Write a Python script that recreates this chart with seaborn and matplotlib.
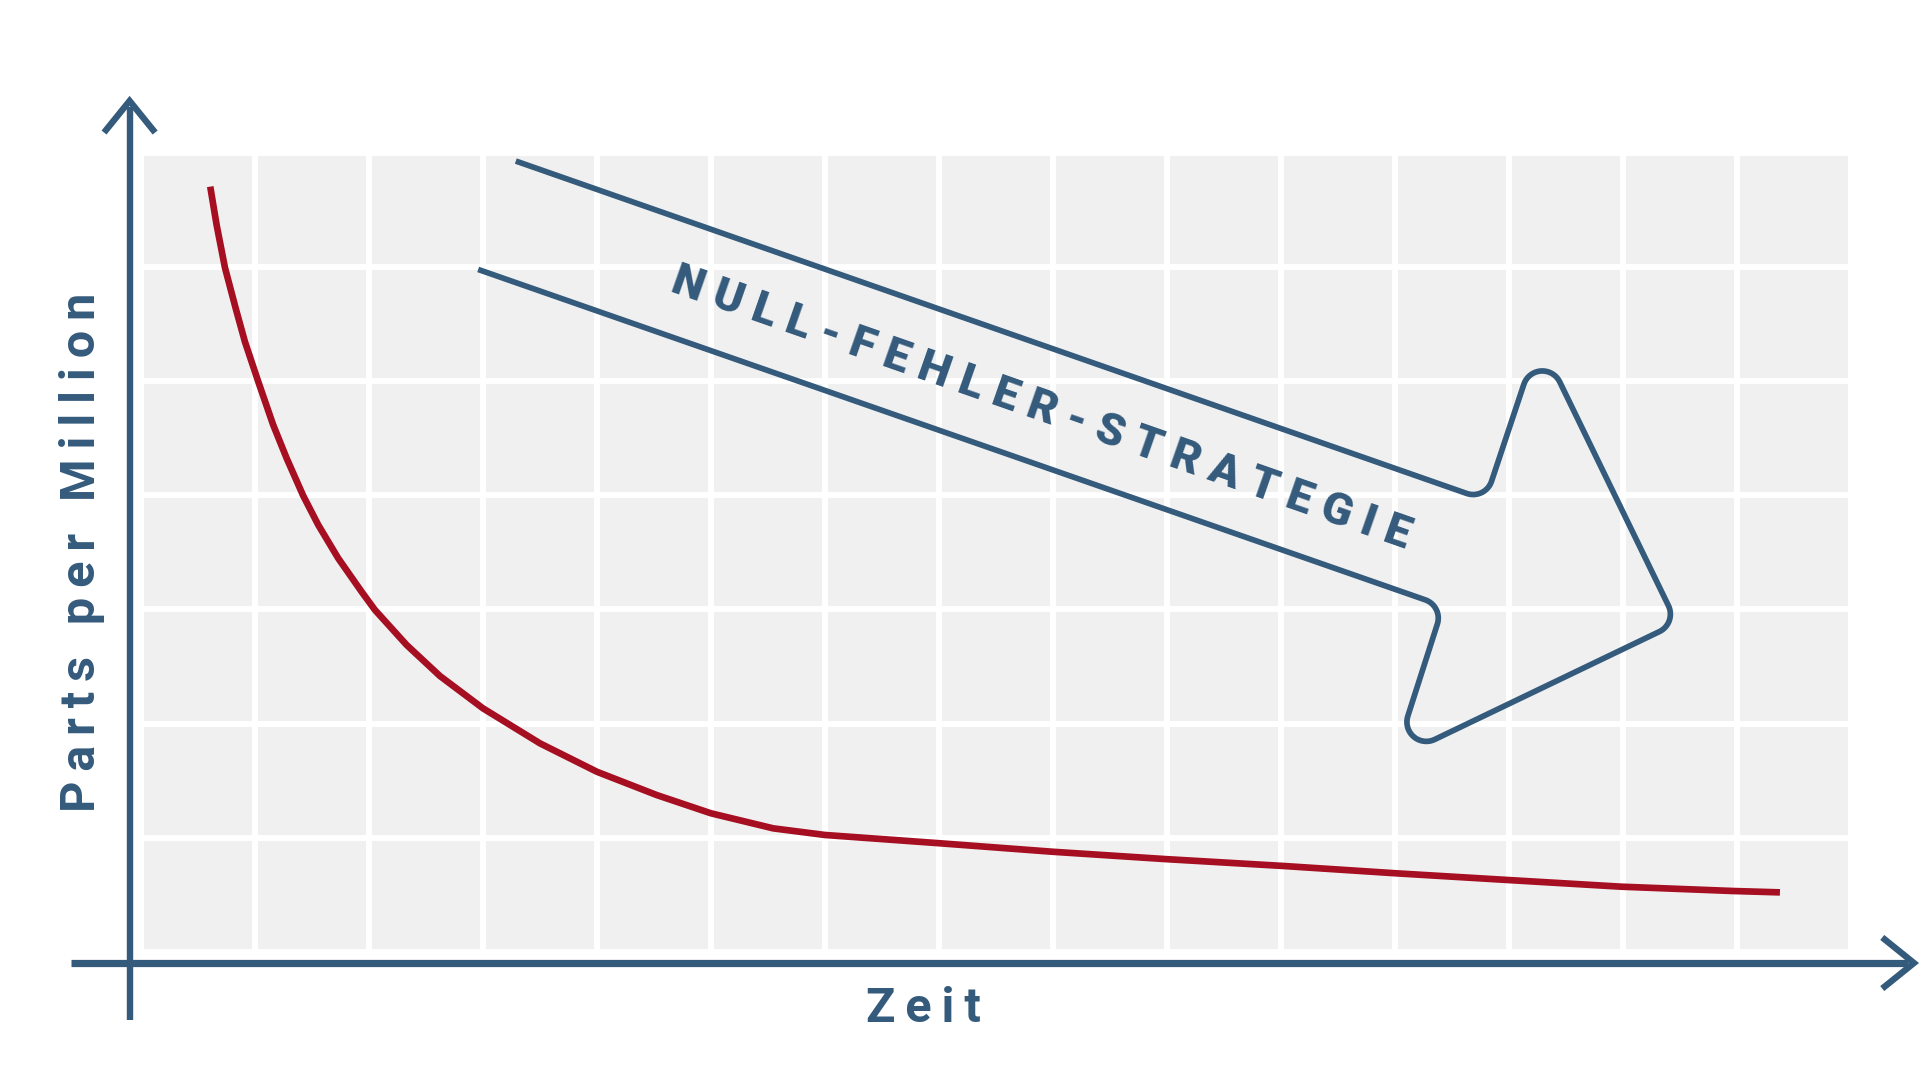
import matplotlib
matplotlib.use('Agg')
import matplotlib.pyplot as plt
import seaborn as sns
import pandas as pd
import numpy as np


# Werte (Rasterfeld = 1 Einheit, 15 x 7 Felder)
zeit = [0.611, 0.667, 0.740, 0.834, 0.915, 1.032, 1.163, 1.281, 1.426, 1.558,
        1.733, 1.938, 2.055, 2.333, 2.625, 3.002, 3.502, 4.001, 4.525, 5.001,
        5.547, 6.000, 7.011, 7.995, 8.979, 10.025, 11.009, 11.993, 12.977,
        13.961, 14.373]
ppm = [6.706, 6.370, 5.996, 5.640, 5.347, 4.997, 4.617, 4.325, 3.997, 3.741,
       3.449, 3.156, 2.996, 2.689, 2.417, 2.134, 1.827, 1.578, 1.374, 1.214,
       1.082, 1.024, 0.951, 0.877, 0.813, 0.752, 0.688, 0.629, 0.571,
       0.533, 0.521]

# Eckpunkte des Pfeils (obere Linie -> Spitze -> untere Linie)
pfeil_x = [3.29, 11.79, 12.26, 13.47, 10.99, 11.42, 2.96]
pfeil_y = [6.93, 3.96, 5.37, 2.88, 1.69, 3.03, 5.98]

BLAU = '#345a7c'
ROT = '#a60e22'
GRAU = '#f0f0f0'


def gesperrt(text, luecke='\u2009'):
    """Buchstaben mit Zwischenraum (Sperrschrift)."""
    return luecke.join(text)


def abgerundet(xs, ys, radius=0.17, n=20):
    """Offener Linienzug mit abgerundeten inneren Ecken."""
    pts = np.column_stack([xs, ys]).astype(float)
    out = [pts[0]]
    for i in range(1, len(pts) - 1):
        p, a, b = pts[i], pts[i - 1], pts[i + 1]
        u1 = (a - p) / np.linalg.norm(a - p)
        u2 = (b - p) / np.linalg.norm(b - p)
        halb = np.arccos(np.clip(np.dot(u1, u2), -1, 1)) / 2
        d = radius / np.tan(halb)
        t1, t2 = p + u1 * d, p + u2 * d
        bis = (u1 + u2) / np.linalg.norm(u1 + u2)
        c = p + bis * radius / np.sin(halb)
        w1 = np.arctan2(*(t1 - c)[::-1])
        w2 = np.arctan2(*(t2 - c)[::-1])
        dw = (w2 - w1 + np.pi) % (2 * np.pi) - np.pi
        w = w1 + np.linspace(0, 1, n) * dw
        out.extend(np.column_stack([c[0] + radius * np.cos(w), c[1] + radius * np.sin(w)]))
    out.append(pts[-1])
    out = np.array(out)
    return out[:, 0], out[:, 1]


sns.set_style('darkgrid', {'axes.facecolor': GRAU, 'grid.color': 'white'})
plt.rcParams['font.family'] = ['Roboto', 'DejaVu Sans']

fig = plt.figure(figsize=(19.2, 10.81), dpi=100)
ax = fig.add_axes([0.0732, 0.1195, 0.8911, 0.7389])

df = pd.DataFrame({'Zeit': zeit, 'PPM': ppm})
sns.lineplot(data=df, x='Zeit', y='PPM', sort=False, color=ROT, linewidth=4.8,
             solid_capstyle='butt', solid_joinstyle='round', ax=ax)

ax.set_xlim(0, 15)
ax.set_ylim(0, 7)
ax.set_xticks(range(16))
ax.set_yticks(range(8))
ax.grid(True, color='white', linewidth=4.3)
ax.tick_params(length=0, labelbottom=False, labelleft=False)
ax.set_xlabel('')
ax.set_ylabel('')
for s in ax.spines.values():
    s.set_visible(False)

# Pfeil "Null-Fehler-Strategie"
px, py = abgerundet(pfeil_x, pfeil_y)
ax.plot(px, py, color=BLAU, linewidth=4.1, solid_capstyle='butt', solid_joinstyle='round')
ax.text(7.86, 4.66, gesperrt('NULL-FEHLER-STRATEGIE', ' '), rotation=-19.3,
        rotation_mode='anchor', ha='center', va='baseline', fontsize=32.6,
        fontweight='black', color=BLAU)

# Achsen mit Pfeilspitzen
kw = dict(color=BLAU, clip_on=False, solid_capstyle='butt', solid_joinstyle='miter')
ax.plot([-0.096, -0.096], [-0.60, 7.40], linewidth=4.6, **kw)
ax.plot([-0.32, -0.096, 0.128], [7.18, 7.457, 7.18], linewidth=4.6, **kw)
ax.plot([-0.61, 15.50], [-0.098, -0.098], linewidth=5.2, **kw)
ax.plot([15.27, 15.548, 15.27], [0.126, -0.098, -0.322], linewidth=4.6, **kw)

fig.text(95 / 1920, 1 - 552 / 1081, gesperrt('Parts per Million'), rotation=90,
         rotation_mode='anchor', ha='center', va='baseline', fontsize=35,
         fontweight='bold', color=BLAU)
fig.text(923 / 1920, 1 - 1022 / 1081, gesperrt('Zeit'), ha='center', va='baseline',
         fontsize=35, fontweight='bold', color=BLAU)

fig.savefig('out.png', dpi=100, facecolor='white')
